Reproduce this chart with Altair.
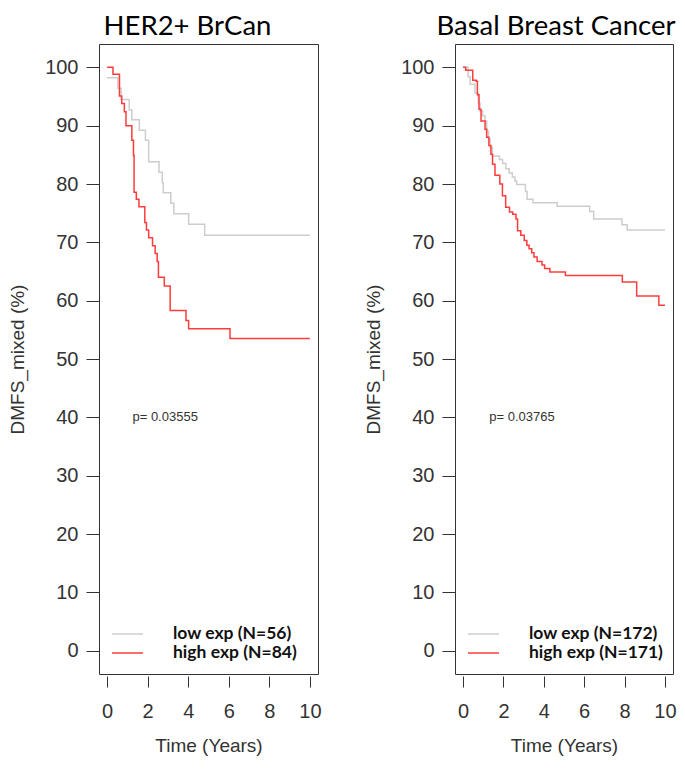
import altair as alt
import pandas as pd

# ---------------- data ----------------
her2_low_t = [0, 0.53, 0.69, 1.09, 1.22, 1.59, 1.89, 2.05, 2.56, 2.72, 2.77, 3.14, 3.29, 4.02, 4.81, 10]
her2_low_v = [98.2, 96.4, 94.5, 92.7, 91.0, 89.2, 87.5, 83.8, 82.0, 80.2, 78.5, 76.7, 74.9, 73.1, 71.2, 71.2]

her2_high_t = [0, 0.29, 0.61, 0.72, 0.85, 0.93, 1.22, 1.30, 1.33, 1.44, 1.57, 1.86, 1.94, 2.05, 2.24,
               2.37, 2.47, 2.53, 2.82, 3.11, 3.89, 4.02, 6.06, 10]
her2_high_v = [100, 98.8, 95.1, 93.8, 92.4, 90.0, 87.5, 84.9, 78.6, 77.4, 76.1, 73.4, 72.1, 70.8, 69.4,
               68.1, 66.7, 64.0, 62.5, 58.3, 56.6, 55.2, 53.5, 53.5]

basal_low_t = [0, 0.25, 0.35, 0.59, 0.75, 0.84, 0.97, 1.09, 1.17, 1.26, 1.34, 1.45, 1.80, 1.96, 2.12,
               2.28, 2.44, 2.57, 2.65, 3.09, 3.17, 3.46, 4.66, 6.27, 6.47, 7.87, 8.13, 10]
basal_low_v = [100, 98.4, 97.1, 95.6, 93.9, 92.5, 91.7, 90.8, 89.1, 87.7, 86.3, 84.8, 84.2, 83.5, 82.6,
               81.9, 81.2, 80.5, 79.9, 78.7, 77.4, 76.8, 76.2, 75.3, 74.0, 73.0, 72.1, 72.1]

basal_high_t = [0, 0.13, 0.48, 0.65, 0.71, 0.79, 0.89, 1.09, 1.17, 1.28, 1.38, 1.46, 1.58, 1.82, 1.95,
                2.11, 2.30, 2.46, 2.62, 2.70, 2.86, 3.03, 3.16, 3.27, 3.40, 3.51, 3.67, 3.91, 4.04,
                4.30, 5.07, 7.89, 8.60, 9.70, 10]
basal_high_v = [100, 99.5, 97.8, 97.6, 95.3, 92.8, 90.8, 89.4, 88.0, 86.6, 85.1, 83.4, 81.5, 80.0, 78.0,
                76.0, 75.2, 74.8, 74.0, 72.0, 71.2, 70.3, 69.5, 68.9, 68.2, 67.5, 66.7, 66.1, 65.5,
                64.9, 64.3, 63.2, 60.8, 59.2, 59.2]

panel_titles = ["HER2+ BrCan", "Basal Breast Cancer"]
legend_labels = [["low exp (N=56)", "high exp (N=84)"], ["low exp (N=172)", "high exp (N=171)"]]
p_values = ["p= 0.03555", "p= 0.03765"]
x_ticks = [0, 2, 4, 6, 8, 10]
y_ticks = [0, 10, 20, 30, 40, 50, 60, 70, 80, 90, 100]

GRAY = "#cdcdcd"
RED = "#ff3c3c"
AXIS_COL = "#333333"


def panel(title, low_t, low_v, high_t, high_v, labels, pval, p_x, title_dx, width):
    df = pd.concat([
        pd.DataFrame({"time": low_t, "surv": low_v, "group": labels[0], "ord": 0}),
        pd.DataFrame({"time": high_t, "surv": high_v, "group": labels[1], "ord": 1}),
    ])
    xs = alt.Scale(domain=[-0.4, 10.4], nice=False, zero=False)
    ys = alt.Scale(domain=[-4, 104], nice=False, zero=False)
    xax = alt.Axis(values=x_ticks, domain=False, grid=False, tickSize=11, offset=2,
                   tickColor=AXIS_COL, labelFontSize=20, labelColor=AXIS_COL, labelPadding=14,
                   labelFont="Liberation Sans", titleFont="Liberation Sans", titleFontSize=19,
                   titleColor=AXIS_COL, titleFontWeight="normal", titlePadding=15)
    yax = alt.Axis(values=y_ticks, domain=False, grid=False, tickSize=13,
                   tickColor=AXIS_COL, labelFontSize=20, labelColor=AXIS_COL, labelPadding=8,
                   labelFont="Liberation Sans", titleFont="Liberation Sans", titleFontSize=19,
                   titleColor=AXIS_COL, titleFontWeight="normal", titlePadding=17)
    lines = alt.Chart(df).mark_line(interpolate="step-after", strokeWidth=1.5).encode(
        x=alt.X("time:Q", scale=xs, axis=xax, title="Time (Years)"),
        y=alt.Y("surv:Q", scale=ys, axis=yax, title="DMFS_mixed (%)"),
        color=alt.Color("group:N", scale=alt.Scale(domain=labels, range=[GRAY, RED]),
                        legend=alt.Legend(title=None, orient="none", legendX=12, legendY=581,
                                          symbolType="stroke", symbolSize=961,
                                          symbolStrokeWidth=1.5, labelOffset=29,
                                          labelFont="Lato", labelFontSize=17.5,
                                          labelFontWeight="bold", labelColor="#111111",
                                          rowPadding=1, clipHeight=18, padding=0)),
        order="ord:Q",
    )
    ptxt = alt.Chart(pd.DataFrame({"t": [pval]})).mark_text(
        align="left", baseline="middle", fontSize=13, font="Liberation Sans", color=AXIS_COL
    ).encode(x=alt.datum(p_x, scale=xs), y=alt.datum(40, scale=ys), text="t:N")
    return alt.layer(lines, ptxt).properties(
        width=width, height=630,
        title=alt.TitleParams(title, font="Lato", fontSize=27.5, fontWeight="normal", color="#000000",
                              anchor="middle", dx=title_dx, offset=4),
    )


left = panel(panel_titles[0], her2_low_t, her2_low_v, her2_high_t, her2_high_v,
             legend_labels[0], p_values[0], 1.25, -21, 219)
right = panel(panel_titles[1], basal_low_t, basal_low_v, basal_high_t, basal_high_v,
              legend_labels[1], p_values[1], 1.30, -8, 218)

chart = alt.hconcat(left, right, spacing=137, bounds="flush").resolve_scale(
    color="independent"
).properties(padding={"top": 4, "left": 0, "right": 0, "bottom": 0}).configure_view(
    stroke=AXIS_COL, strokeWidth=1)

chart.save("out.html", embed_options={"renderer": "svg", "actions": False})
